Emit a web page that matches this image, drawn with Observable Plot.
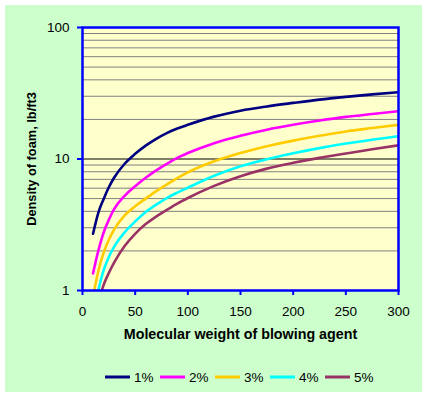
<!DOCTYPE html>
<html>
<head>
<meta charset="utf-8">
<script src="https://cdn.jsdelivr.net/npm/d3@7"></script>
<script src="https://cdn.jsdelivr.net/npm/@observablehq/plot@0.6"></script>
<style>
  html, body { margin: 0; padding: 0; background: #ffffff; }
  #box { position: absolute; left: 5px; top: 5px; width: 417px; height: 387px; background: #CCFFCC; font-family: Arial, "Liberation Sans", sans-serif; }
  #chart { position: absolute; left: 0; top: 0; }
  #legend { position: absolute; left: 0; top: 365px; width: 417px; height: 16px; font-size: 13.5px; color: #000; }
  .item { position: absolute; top: 0; height: 16px; line-height: 16px; white-space: nowrap; }
  .item svg { vertical-align: middle; margin-right: 4px; position: relative; top: -1px; }
</style>
</head>
<body>
<div id="box"><div id="chart"></div><div id="legend"></div></div>
<script>
// Molecular weight of blowing agent (x)
const mw = [10, 15, 20, 25, 30, 40, 50, 60, 70, 80, 90, 100, 125, 150, 175, 200, 225, 250, 275, 300];
// Density of foam, lb/ft3, per blowing agent concentration
const s1 = [2.7, 3.9, 4.95, 6.1, 7.2, 9.2, 10.95, 12.65, 14.25, 15.75, 17.05, 18.2, 21.0, 23.3, 25.1, 26.7, 28.3, 29.7, 31.0, 32.2];
const s2 = [1.35, 2.0, 2.75, 3.45, 4.15, 5.25, 6.2, 7.2, 8.2, 9.2, 10.2, 11.1, 13.2, 15.0, 16.7, 18.2, 19.6, 20.9, 22.0, 23.1];
const s3 = [0.9, 1.4, 1.93, 2.43, 2.9, 3.72, 4.37, 5.0, 5.7, 6.4, 7.15, 7.9, 9.6, 11.1, 12.5, 13.8, 15.0, 16.2, 17.2, 18.2];
const s4 = [0.65, 1.0, 1.42, 1.8, 2.15, 2.77, 3.35, 3.95, 4.5, 5.05, 5.55, 6.05, 7.45, 8.8, 9.95, 11.05, 12.1, 13.1, 14.0, 14.9];
const s5 = [0.5, 0.8, 1.1, 1.36, 1.63, 2.18, 2.7, 3.2, 3.65, 4.1, 4.58, 5.05, 6.25, 7.4, 8.45, 9.35, 10.2, 11.0, 11.85, 12.7];
const seriesNames = ["1%", "2%", "3%", "4%", "5%"];
const seriesColors = ["#000080", "#FF00FF", "#FFCC00", "#00FFFF", "#993366"];
const xTicks = [0, 50, 100, 150, 200, 250, 300];
const yTicks = [1, 10, 100];
const minorY = [2, 3, 4, 5, 6, 7, 8, 9, 20, 30, 40, 50, 60, 70, 80, 90];

const allSeries = [s1, s2, s3, s4, s5];
const rows = [];
allSeries.forEach((s, i) => s.forEach((v, j) => rows.push({m: mw[j], v, series: seriesNames[i]})));

const chart = Plot.plot({
  width: 417,
  height: 345,
  marginLeft: 77,
  marginTop: 22,
  marginRight: 24,
  marginBottom: 60,
  style: {background: "transparent", fontFamily: 'Arial, "Liberation Sans", sans-serif', fontSize: "13.5px", color: "#000"},
  x: {domain: [0, 300]},
  y: {type: "log", domain: [1, 100]},
  color: {domain: seriesNames, range: seriesColors},
  marks: [
    Plot.frame({fill: "#FFFFCC"}),
    Plot.ruleY(minorY, {stroke: "#808080", strokeWidth: 1}),
    Plot.ruleY([10], {stroke: "#000000", strokeWidth: 1}),
    Plot.line(rows, {x: "m", y: "v", z: "series", stroke: "series", strokeWidth: 2.6, curve: "monotone-x", clip: true}),
    Plot.frame({stroke: "#0000FF", strokeWidth: 2.5}),
    Plot.axisX({ticks: xTicks, tickFormat: d => String(d), tickSize: 5, tickPadding: 11, stroke: "#0000FF", strokeWidth: 2, label: null, fontSize: 13.5}),
    Plot.axisY({ticks: yTicks, tickFormat: d => String(d), tickSize: 5, tickPadding: 8, stroke: "#0000FF", strokeWidth: 2, label: null, fontSize: 13.5}),
    Plot.text(["Molecular weight of blowing agent"], {frameAnchor: "bottom", dy: 48, fontWeight: "bold", fontSize: 14.3, textAnchor: "middle", fill: "#000"}),
    Plot.text(["Density of foam, lb/ft3"], {frameAnchor: "left", dx: -51, rotate: -90, fontWeight: "bold", fontSize: 12.8, textAnchor: "middle", fill: "#000"})
  ]
});
document.getElementById("chart").appendChild(chart);

const legend = document.getElementById("legend");
const startX = 100; // relative to box
seriesNames.forEach((name, i) => {
  const it = document.createElement("div");
  it.className = "item";
  it.style.left = (startX + i * 55) + "px";
  it.innerHTML = `<svg width="25" height="4"><line x1="0" y1="2" x2="25" y2="2" stroke="${seriesColors[i]}" stroke-width="3"/></svg>${name}`;
  legend.appendChild(it);
});
</script>
</body>
</html>
